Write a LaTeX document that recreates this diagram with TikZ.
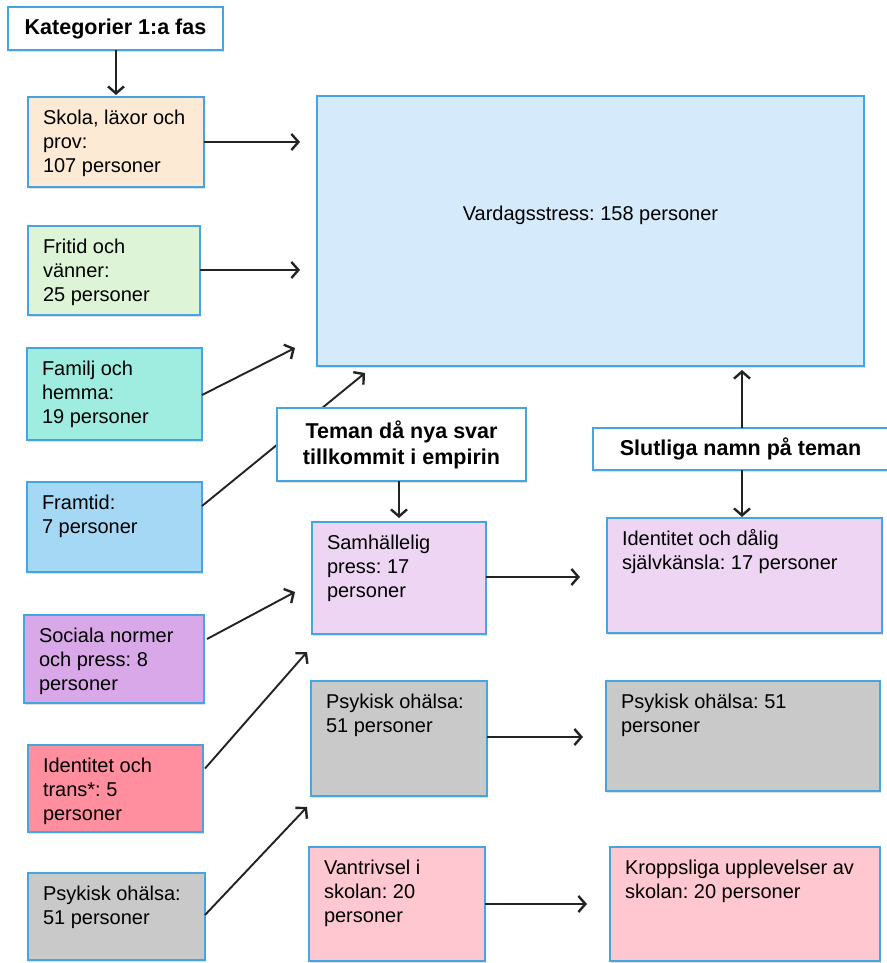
\documentclass[tikz,border=0pt]{standalone}
\usepackage{fontspec}
\setmainfont{Liberation Sans}
\frenchspacing
\usetikzlibrary{arrows.meta,shadows}
\definecolor{bordc}{RGB}{70,165,224}
\definecolor{cskola}{RGB}{253,234,212}
\definecolor{cfritid}{RGB}{221,245,214}
\definecolor{cfamilj}{RGB}{158,237,224}
\definecolor{cframtid}{RGB}{164,216,245}
\definecolor{cvardag}{RGB}{213,234,250}
\definecolor{csociala}{RGB}{217,168,232}
\definecolor{cidtrans}{RGB}{255,143,158}
\definecolor{cgray}{RGB}{201,201,201}
\definecolor{clav}{RGB}{237,213,243}
\definecolor{cpink}{RGB}{255,200,208}
\definecolor{linec}{RGB}{35,35,35}
\newcommand\btxt[3]{\hspace*{15pt}\parbox[c][#2][t]{#1}{\fontsize{20}{24}\selectfont\rule{0pt}{27.5pt}#3}}
\tikzset{
  box/.style={draw=bordc, line width=2pt, inner sep=0pt, outer sep=0pt, anchor=north west,
    drop shadow={shadow xshift=1.2pt, shadow yshift=-2pt, opacity=0.25}},
  titlebox/.style={box, fill=white, font=\fontsize{21.5}{26}\selectfont\bfseries, align=center},
  conn/.style={draw=linec, line width=1.9pt, -{Straight Barb[length=7pt,width=16pt,line width=2.4pt]}}
}
\begin{document}
\begin{tikzpicture}[x=1pt,y=-1pt]
\useasboundingbox[fill=white] (0,0) rectangle (886,963);
% left column
\node[titlebox, minimum width=215pt, minimum height=43pt] (kat) at (8,7) {Kategorier 1:a fas};
\node[box, fill=cskola, minimum width=176pt, minimum height=90pt] (skola) at (28,97) {\btxt{161pt}{90pt}{Skola, läxor och\\prov:\\107 personer}};
\node[box, fill=cfritid, minimum width=172pt, minimum height=89pt] (fritid) at (28,226) {\btxt{157pt}{89pt}{Fritid och\\vänner:\\25 personer}};
\node[box, fill=cfamilj, minimum width=175pt, minimum height=92pt] (familj) at (27,348) {\btxt{160pt}{92pt}{Familj och\\hemma:\\19 personer}};
\node[box, fill=cframtid, minimum width=175pt, minimum height=90pt] (framtid) at (27,482) {\btxt{160pt}{90pt}{Framtid:\\7 personer}};
\node[box, fill=csociala, minimum width=180pt, minimum height=88pt] (sociala) at (24,615) {\btxt{165pt}{88pt}{Sociala normer\\och press: 8\\personer}};
\node[box, fill=cidtrans, minimum width=175pt, minimum height=87pt] (idtrans) at (28,745) {\btxt{160pt}{87pt}{Identitet och\\trans*: 5\\personer}};
\node[box, fill=cgray, minimum width=177pt, minimum height=87pt] (psykL) at (28,873) {\btxt{162pt}{87pt}{Psykisk ohälsa:\\51 personer}};
% big box
\node[box, fill=cvardag, minimum width=547pt, minimum height=270pt] (vardag) at (317,96)
  {\parbox[c][270pt][t]{547pt}{\centering\fontsize{20}{24}\selectfont\rule{0pt}{124pt}Vardagsstress: 158 personer}};
% middle column
\node[box, fill=clav, minimum width=174pt, minimum height=112pt] (samh) at (312,522) {\btxt{159pt}{112pt}{Samhällelig\\press: 17\\personer}};
\node[box, fill=cgray, minimum width=176pt, minimum height=115pt] (psykM) at (311,681) {\btxt{161pt}{115pt}{Psykisk ohälsa:\\51 personer}};
\node[box, fill=cpink, minimum width=176pt, minimum height=114pt] (vantr) at (309,847) {\btxt{161pt}{114pt}{Vantrivsel i\\skolan: 20\\personer}};
% right column
\node[titlebox, minimum width=295pt, minimum height=42pt] (slut) at (593,428) {Slutliga namn på teman};
\node[box, fill=clav, minimum width=275pt, minimum height=115pt] (identd) at (607,518) {\btxt{260pt}{115pt}{Identitet och dålig\\självkänsla: 17 personer}};
\node[box, fill=cgray, minimum width=274pt, minimum height=110pt] (psykR) at (606,681) {\btxt{259pt}{110pt}{Psykisk ohälsa: 51\\personer}};
\node[box, fill=cpink, minimum width=270pt, minimum height=114pt] (kropp) at (610,847) {\btxt{255pt}{114pt}{Kroppsliga upplevelser av\\skolan: 20 personer}};
% arrow tips
\coordinate (t1) at (116,95);
\coordinate (t2) at (300,142);
\coordinate (t3) at (300,270);
\coordinate (t4) at (295,348);
\coordinate (t5) at (365,373);
\coordinate (t6) at (399,518);
\coordinate (t7) at (580,577);
\coordinate (t8) at (742,370);
\coordinate (t9) at (742,517);
\coordinate (t10) at (295,592);
\coordinate (t11) at (307,652);
\coordinate (t12) at (307,807);
\coordinate (t13) at (583,737);
\coordinate (t14) at (587,904);
% connectors
\draw[conn] (kat.south -| t1) -- (t1);
\draw[conn] (skola.east) -- (t2);
\draw[conn] (fritid.east |- t3) -- (t3);
\draw[conn] ([yshift=-1pt]familj.east) -- (t4);
\draw[conn] ([yshift=21pt]framtid.east) -- (t5);
% theme box drawn over the Framtid connector
\node[titlebox, minimum width=249pt, minimum height=73pt] (teman) at (277,408) {Teman då nya svar\\tillkommit i empirin};
\draw[conn] (teman.south -| t6) -- (t6);
\draw[conn] (samh.east |- t7) -- (t7);
\draw[conn] (slut.north -| t8) -- (t8);
\draw[conn] (slut.south -| t9) -- (t9);
\draw[conn] ([xshift=3pt,yshift=20pt]sociala.east) -- (t10);
\draw[conn] ([xshift=2pt,yshift=20pt]idtrans.east) -- (t11);
\draw[conn] (psykL.east |- 0,915) -- (t12);
\draw[conn] (psykM.east |- t13) -- (t13);
\draw[conn] (vantr.east |- t14) -- (t14);
\end{tikzpicture}
\end{document}
